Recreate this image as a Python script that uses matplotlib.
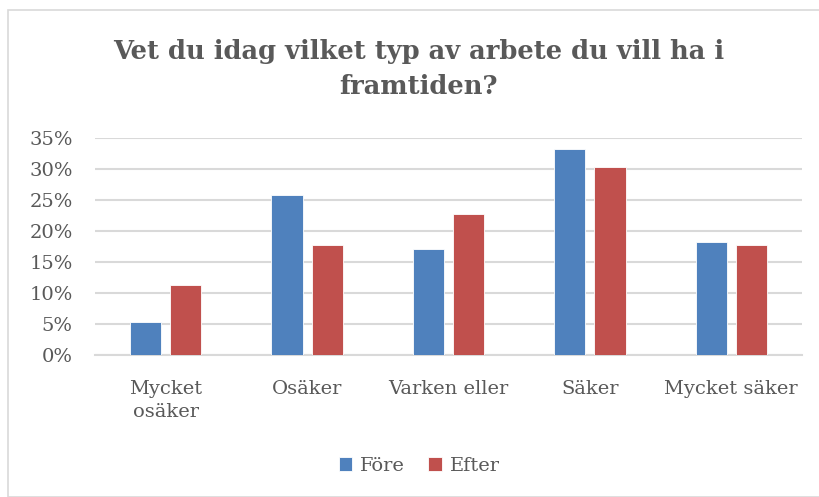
import matplotlib
matplotlib.use("Agg")
import matplotlib.pyplot as plt
from matplotlib.patches import Rectangle
from matplotlib.ticker import PercentFormatter, MultipleLocator
import numpy as np

categories = ["Mycket\nosäker", "Osäker", "Varken eller", "Säker", "Mycket säker"]
fore = [0.053, 0.2575, 0.1715, 0.3328, 0.1817]
efter = [0.113, 0.1769, 0.2274, 0.3032, 0.1769]
series_names = ["Före", "Efter"]
colors = ["#4F81BD", "#C0504D"]
title = "Vet du idag vilket typ av arbete du vill ha i\nframtiden?"

W, H = 820, 497
fig = plt.figure(figsize=(W / 100, H / 100), dpi=100)
fig.patch.set_facecolor("white")
fig.add_artist(Rectangle((8 / W, 0), (W - 8) / W, (H - 10) / H, transform=fig.transFigure,
                         fill=False, edgecolor="#D9D9D9", linewidth=1.2))

ax = fig.add_axes([95 / W, 1 - 355 / H, (802 - 95) / W, (355 - 138) / H])
x = np.arange(len(categories))
bw = 0.22
gap = 0.032
ax.bar(x - bw / 2 - gap, fore, width=bw, color=colors[0], label=series_names[0], zorder=3,
       edgecolor="white", linewidth=0.6)
ax.bar(x + bw / 2 + gap, efter, width=bw, color=colors[1], label=series_names[1], zorder=3,
       edgecolor="white", linewidth=0.6)

ax.set_xlim(-0.5, len(categories) - 0.5)
ax.set_ylim(0, 0.35)
ax.yaxis.set_major_locator(MultipleLocator(0.05))
ax.yaxis.set_major_formatter(PercentFormatter(1.0, decimals=0))
ax.grid(axis="y", color="#D9D9D9", linewidth=1.5, zorder=0)
for s in ["top", "right", "left"]:
    ax.spines[s].set_visible(False)
ax.spines["bottom"].set_color("#D9D9D9")
ax.spines["bottom"].set_linewidth(1.5)
ax.tick_params(axis="both", length=0, colors="#595959", labelsize=14)
ax.tick_params(axis="x", pad=18)
ax.tick_params(axis="y", pad=16)
ax.set_xticks(x)
ax.set_xticklabels(categories, fontfamily="DejaVu Serif", linespacing=1.35)
for lab in ax.get_yticklabels():
    lab.set_fontfamily("DejaVu Serif")

cx = 419 / W
fig.text(cx, 1 - 69 / H, title, ha="center", va="center", fontsize=18.5, fontweight="bold",
         color="#595959", family="DejaVu Serif", linespacing=1.5)

leg = fig.legend(loc="center", bbox_to_anchor=(cx, 1 - 466 / H), ncol=2, frameon=False,
                 prop={"family": "DejaVu Serif", "size": 14}, handlelength=0.7, handleheight=0.7,
                 handletextpad=0.4, columnspacing=1.2)
for t in leg.get_texts():
    t.set_color("#595959")

fig.savefig("out.png", dpi=100)
